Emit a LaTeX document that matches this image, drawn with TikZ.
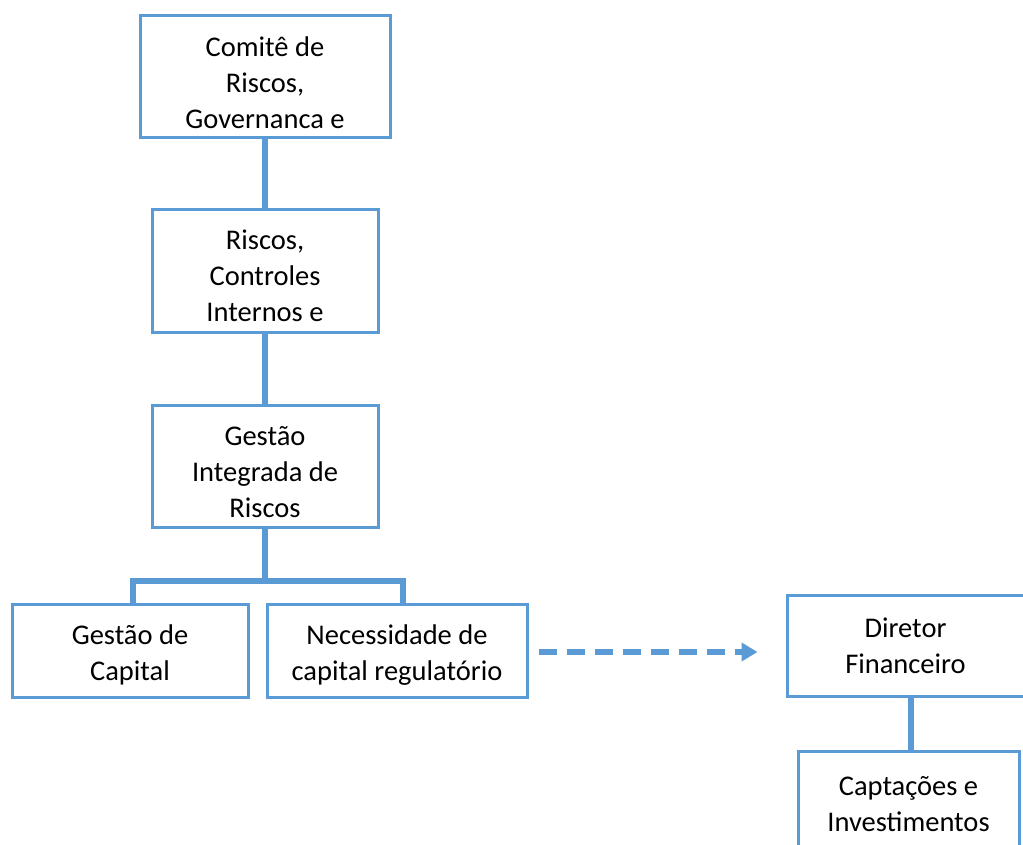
\documentclass[tikz,border=0pt]{standalone}
\usepackage{fontspec}
\setmainfont{Carlito}
\usetikzlibrary{arrows.meta}
\definecolor{boxblue}{HTML}{5B9BD5}
\begin{document}
\begin{tikzpicture}[x=1pt, y=1pt,
    caixa/.style={draw=boxblue, line width=3pt, fill=white, align=center, inner sep=0pt,
      font=\fontsize{28.5}{36}\selectfont},
    liga/.style={draw=boxblue, line width=6pt, line join=miter},
    seta/.style={draw=boxblue, line width=6pt, dash pattern=on 18pt off 10pt,
      -{Triangle[length=16pt,width=18pt]}}]
    \useasboundingbox (0,0) rectangle (1023,-845);
    \node[caixa, text height=103pt, minimum width=250pt, minimum height=122pt] (comite) at (265,-77) {Comitê de\\Riscos,\\Governanca e};
    \node[caixa, text height=102pt, minimum width=226pt, minimum height=122pt] (controles) at (265,-271) {Riscos,\\Controles\\Internos e};
    \node[caixa, text height=104pt, minimum width=226pt, minimum height=122pt] (integrada) at (265,-466) {Gestão\\Integrada de\\Riscos};
    \node[caixa, text height=65pt, minimum width=236pt, minimum height=93pt] (capital) at (130,-650.5) {Gestão de\\Capital};
    \node[caixa, text height=64pt, minimum width=260pt, minimum height=93pt] (regulat) at (397,-650.5) {Necessidade de\\capital regulatório};
    \node[caixa, minimum width=237pt, minimum height=101pt] (diretor) at (905.5,-645.5) {Diretor\\Financeiro};
    \node[caixa, text depth=4pt, minimum width=221pt, minimum height=110pt] (captacoes) at (908.5,-806) {Captações e\\Investimentos};
    \coordinate (ramo) at (265,-581);
    \draw[liga] (comite) -- (controles);
    \draw[liga] (controles) -- (integrada);
    \draw[liga] (integrada) -- (ramo);
    \draw[liga] ([xshift=3pt]capital.north) |- (ramo) -| ([xshift=6pt]regulat.north);
    \draw[liga] ([xshift=5pt]diretor.south) -- ([xshift=2pt]captacoes.north);
    \draw[seta] ([xshift=10pt,yshift=-1.5pt]regulat.east) -- ([xshift=-28pt,yshift=-1.5pt]regulat.east -| diretor.west);
\end{tikzpicture}
\end{document}
